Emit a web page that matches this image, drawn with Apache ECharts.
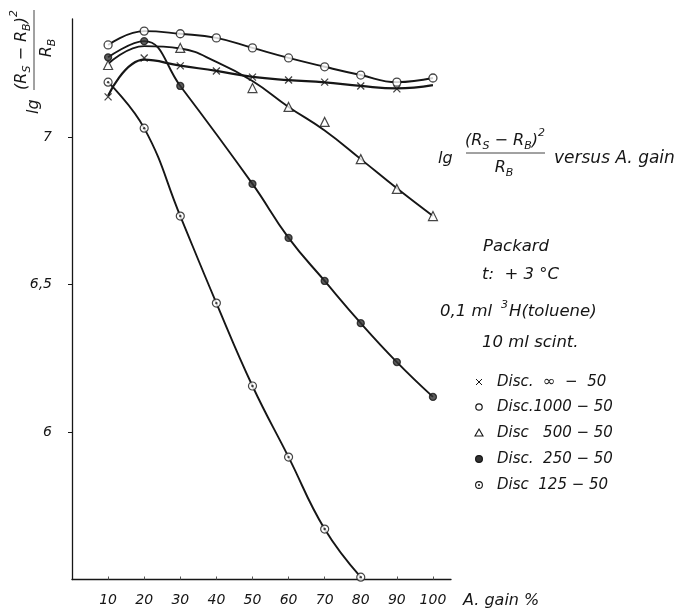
<!DOCTYPE html>
<html>
<head>
<meta charset="utf-8">
<script src="https://cdn.jsdelivr.net/npm/echarts@6/dist/echarts.min.js"></script>
<style>
  html, body { margin: 0; padding: 0; background: #fff; }
  #chart { width: 683px; height: 614px; }
</style>
</head>
<body>
<div id="chart"></div>
<script>
// A. gain settings (%)
const gain = [10, 20, 30, 40, 50, 60, 70, 80, 90, 100];

// lg((Rs - Rb)^2 / Rb) measured for each discriminator window (null = no point plotted)
const discInf  = [7.136, 7.268, 7.241, 7.224, 7.203, 7.193, 7.186, 7.173, 7.163, null];
const disc1000 = [7.312, 7.359, 7.350, 7.336, 7.302, 7.268, 7.238, 7.210, 7.186, 7.200];
const disc500  = [7.244, null, 7.302, null, 7.166, 7.102, 7.051, 6.925, 6.824, 6.732];
const disc250  = [7.270, 7.325, 7.173, null, 6.841, 6.658, 6.512, 6.369, 6.237, 6.119];
const disc125  = [7.186, 7.030, 6.732, 6.437, 6.156, 5.915, 5.671, 5.508];

// Hand-fitted curves drawn through the measured points
const discInfFit = [7.140, 7.262, 7.242, 7.224, 7.204, 7.193, 7.185, 7.173, 7.165, 7.176];
const disc500Fit = [7.248, 7.308, 7.300, 7.255, 7.190, 7.102, 7.022, 6.925, 6.826, 6.732];

// Axis tick values
const xTicks = [10, 20, 30, 40, 50, 60, 70, 80, 90, 100];
const yTicks = [6, 6.5, 7];

// Legend captions
const legendLabels = ['Disc.  \u221E  \u2212  50', 'Disc.1000 \u2212 50', 'Disc   500 \u2212 50', 'Disc.  250 \u2212 50', 'Disc  125 \u2212 50'];

const INK = '#161616';
const FONT = 'DejaVu Sans';

const chart = echarts.init(document.getElementById('chart'), null, { renderer: 'canvas' });

const measureCtx = document.createElement('canvas').getContext('2d');
function textWidth(t, size) {
  measureCtx.font = 'italic ' + size + 'px "' + FONT + '"';
  return measureCtx.measureText(t).width;
}
function txt(t, x, y, size, align) {
  return {
    type: 'text', x: x, y: y, silent: true,
    style: {
      text: t, fill: INK, fontSize: size, fontStyle: 'italic', fontFamily: FONT,
      align: align || 'left', verticalAlign: 'middle',
      textAlign: align || 'left', textVerticalAlign: 'middle'
    }
  };
}
// Lay out a run of text pieces [text, size, dy] centred on cx
function run(pieces, cx, cy) {
  const widths = pieces.map(p => textWidth(p[0], p[1]));
  const total = widths.reduce((a, b) => a + b, 0);
  let x = cx - total / 2;
  const out = [];
  pieces.forEach((p, i) => {
    out.push(txt(p[0], x, cy + (p[2] || 0), p[1]));
    x += widths[i];
  });
  return out;
}
const numerator = [['(R', 16, 0], ['S', 11, 5], [' \u2212 R', 16, 0], ['B', 11, 5], [')', 16, 0], ['2', 11, -8]];
const denominator = [['R', 16, 0], ['B', 11, 5]];

function pairs(vals) {
  return vals.map((v, i) => [gain[i], v]);
}
function curve(name, vals, width) {
  return {
    type: 'line', name: name, data: pairs(vals), smooth: 0.45,
    connectNulls: true, symbol: 'none',
    lineStyle: { color: INK, width: width }, z: 2
  };
}
function marks(name, vals, symbol, size, itemStyle) {
  return {
    type: 'scatter', name: name, data: pairs(vals).filter(p => p[1] != null),
    symbol: symbol, symbolSize: size, itemStyle: itemStyle, z: 4
  };
}

const crossPath = 'path://M0 0L10 10M10 0L0 10';

const graphics = [];
// rotated y-axis title
graphics.push({
  type: 'group', x: 34, y: 50, rotation: Math.PI / 2,
  children: [
    { type: 'line', shape: { x1: -40, y1: 0, x2: 40, y2: 0 }, style: { stroke: '#444', lineWidth: 1 } },
    ...run(numerator, 0, -12),
    ...run(denominator, 2, 13),
    txt('lg', -64, 0, 16)
  ]
});
// right-hand title
graphics.push(txt('lg', 438, 159, 16));
graphics.push({ type: 'line', shape: { x1: 466, y1: 153, x2: 545, y2: 153 }, style: { stroke: '#444', lineWidth: 1 } });
graphics.push(...run(numerator, 505, 141));
graphics.push(...run(denominator, 504, 168));
graphics.push(txt('versus A. gain', 554, 159, 17));
// measurement notes
graphics.push(txt('Packard', 483, 247, 16.5));
graphics.push(txt('t:  + 3 \u00B0C', 482, 275, 16.5));
graphics.push(txt('0,1 ml', 440, 312, 16.5));
graphics.push(txt('3', 501, 305, 11));
graphics.push(txt('H(toluene)', 509, 312, 16.5));
graphics.push(txt('10 ml scint.', 482, 343, 16.5));
// x-axis caption
graphics.push(txt('A. gain %', 463, 601, 16));

// legend
const legendY = [382, 407, 433, 459, 485];
const mx = 479;
graphics.push({ type: 'line', shape: { x1: mx - 3, y1: legendY[0] - 3, x2: mx + 3, y2: legendY[0] + 3 }, style: { stroke: INK, lineWidth: 1 } });
graphics.push({ type: 'line', shape: { x1: mx + 3, y1: legendY[0] - 3, x2: mx - 3, y2: legendY[0] + 3 }, style: { stroke: INK, lineWidth: 1 } });
graphics.push({ type: 'circle', shape: { cx: mx, cy: legendY[1], r: 3.2 }, style: { fill: '#fff', stroke: INK, lineWidth: 1.2 } });
graphics.push({ type: 'polygon', shape: { points: [[mx, legendY[2] - 4], [mx + 4, legendY[2] + 3], [mx - 4, legendY[2] + 3]] }, style: { fill: '#fff', stroke: INK, lineWidth: 1.1 } });
graphics.push({ type: 'circle', shape: { cx: mx, cy: legendY[3], r: 3.4 }, style: { fill: '#333', stroke: INK, lineWidth: 1.2 } });
graphics.push({ type: 'circle', shape: { cx: mx, cy: legendY[4], r: 3.4 }, style: { fill: '#fff', stroke: INK, lineWidth: 1.1 } });
graphics.push({ type: 'circle', shape: { cx: mx, cy: legendY[4], r: 1 }, style: { fill: INK } });
legendLabels.forEach((l, i) => graphics.push(txt(l, 497, legendY[i], 15)));

const axisFont = { fontStyle: 'italic', fontFamily: FONT, fontSize: 14, color: INK };

chart.setOption({
  animation: false,
  backgroundColor: '#fff',
  grid: { left: 72, top: 19, width: 379, height: 560.5 },
  xAxis: {
    type: 'value', min: 0, max: 105,
    axisLine: { show: true, onZero: false, lineStyle: { color: INK, width: 1.3 } },
    axisTick: { show: true, inside: true, length: 3, customValues: xTicks, lineStyle: { color: '#555', width: 1 } },
    axisLabel: Object.assign({ customValues: xTicks, margin: 14 }, axisFont),
    splitLine: { show: false }
  },
  yAxis: {
    type: 'value', min: 5.5, max: 7.4,
    axisLine: { show: true, onZero: false, lineStyle: { color: INK, width: 1.3 } },
    axisTick: { show: true, length: 4, customValues: yTicks, lineStyle: { color: INK, width: 1 } },
    axisLabel: Object.assign({
      customValues: yTicks, margin: 20,
      formatter: v => String(v).replace('.', ',')
    }, axisFont),
    splitLine: { show: false }
  },
  series: [
    curve('Disc. \u221E \u2212 50', discInfFit, 2.2),
    curve('Disc. 1000 \u2212 50', disc1000, 1.9),
    curve('Disc. 500 \u2212 50', disc500Fit, 1.9),
    curve('Disc. 250 \u2212 50', disc250, 1.9),
    curve('Disc. 125 \u2212 50', disc125, 1.9),
    marks('Disc. \u221E \u2212 50', discInf, crossPath, 7, { color: INK, borderColor: INK, borderWidth: 1.3 }),
    marks('Disc. 1000 \u2212 50', disc1000, 'circle', 8, { color: '#fff', borderColor: INK, borderWidth: 1.3 }),
    marks('Disc. 500 \u2212 50', disc500, 'triangle', 9, { color: '#fff', borderColor: INK, borderWidth: 1.2 }),
    marks('Disc. 250 \u2212 50', disc250, 'circle', 7, { color: '#333', borderColor: INK, borderWidth: 1.3 }),
    marks('Disc. 125 \u2212 50', disc125, 'circle', 8, { color: '#fff', borderColor: INK, borderWidth: 1.2 }),
    Object.assign(marks('Disc. 125 \u2212 50 centre', disc125, 'circle', 2.4, { color: INK }), { z: 5, silent: true })
  ],
  graphic: { elements: graphics }
});
</script>
</body>
</html>
